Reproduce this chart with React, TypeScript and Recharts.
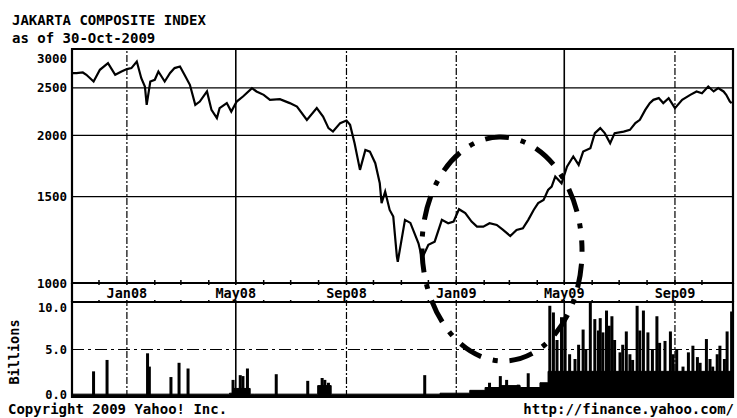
import React from 'react';
import {
  LineChart,
  Line,
  XAxis,
  YAxis,
  ReferenceLine,
  ReferenceArea,
  ComposedChart,
  Bar,
  Area,
} from 'recharts';

// x values are days since 1 Nov 2007
const monthStartDays = [0, 30, 61, 92, 121, 152, 182, 213, 243, 274, 305, 335, 366, 396, 427, 458, 486, 517, 547, 578, 608, 639, 670, 700];
const monthLabels = ['Nov07', 'Dec07', 'Jan08', 'Feb08', 'Mar08', 'Apr08', 'May08', 'Jun08', 'Jul08', 'Aug08', 'Sep08', 'Oct08', 'Nov08', 'Dec08', 'Jan09', 'Feb09', 'Mar09', 'Apr09', 'May09', 'Jun09', 'Jul09', 'Aug09', 'Sep09', 'Oct09'];
const labeledMonths = ['Jan08', 'May08', 'Sep08', 'Jan09', 'May09', 'Sep09'];

const priceDays = [
  0, 5, 12, 16, 24, 31, 40, 48, 55, 61,
  66, 72, 77, 81, 83, 87, 92, 96, 103, 109,
  114, 120, 125, 131, 137, 142, 150, 155, 161, 164,
  172, 177, 183, 190, 200, 205, 213, 220, 231, 242,
  250, 261, 272, 279, 285, 290, 298, 305, 309, 314,
  320, 326, 331, 337, 342, 344, 348, 353, 357, 361,
  362, 370, 376, 385, 389, 396, 403, 411, 418, 424,
  430, 437, 444, 450, 457, 464, 472, 479, 487, 494,
  501, 507, 513, 518, 524, 529, 533, 537, 544, 550,
  557, 563, 568, 576, 581, 587, 592, 598, 603, 613,
  620, 626, 631, 637, 642, 646, 652, 657, 663, 670,
  678, 687, 694, 700, 707, 713, 718, 724, 727, 731, 733,
];
const priceClose = [
  2680, 2680, 2687, 2658, 2575, 2721, 2808, 2658, 2699, 2730,
  2743, 2829, 2616, 2516, 2308, 2575, 2596, 2699, 2575, 2680,
  2743, 2764, 2658, 2536, 2308, 2344, 2458, 2254, 2168, 2273,
  2327, 2236, 2344, 2400, 2497, 2458, 2419, 2363, 2371, 2327,
  2290, 2151, 2273, 2185, 2069, 2036, 2118, 2144, 2101, 1928,
  1701, 1868, 1853, 1755, 1597, 1455, 1536, 1409, 1366, 1132,
  1105, 1345, 1326, 1205, 1123, 1196, 1214, 1345, 1324, 1334,
  1414, 1388, 1334, 1303, 1303, 1324, 1313, 1283, 1247, 1283,
  1293, 1345, 1409, 1455, 1477, 1548, 1572, 1648, 1597, 1727,
  1811, 1741, 1853, 1883, 2021, 2069, 2021, 1928, 2021, 2036,
  2052, 2118, 2151, 2254, 2327, 2363, 2382, 2327, 2382, 2273,
  2363, 2419, 2458, 2438, 2516, 2458, 2497, 2458, 2419, 2344, 2327,
];
const priceTicks = [1000, 1500, 2000, 2500, 3000];

// volume in billions
const volBaseDays = [0, 175, 179, 198, 203, 273, 288, 409, 442, 459, 475, 498, 520, 529, 734];
const volBaseVals = [0.3, 0.4, 0.9, 0.3, 0.3, 1.2, 0.3, 0.4, 0.7, 1.0, 1.2, 1.0, 1.5, 2.7, 2.7];
const volSpikeDays = [
  24, 39, 84, 86, 110, 119, 129, 179, 187, 190, 195, 227, 262, 278, 281, 285,
  392, 464, 476, 483, 496, 507,
  531, 535, 539, 544, 548, 553, 559, 563, 568, 571, 576, 581, 585, 587, 590, 594, 597, 600, 603, 609,
  612, 616, 620, 623, 628, 631, 635, 640, 645, 650, 653, 659, 665, 668, 672, 679, 685, 690, 695, 698,
  705, 709, 712, 717, 720, 725, 728, 733,
];
const volSpikeVals = [
  2.7, 3.9, 4.6, 3.2, 2.1, 3.6, 3.0, 1.8, 2.3, 2.2, 3.0, 2.4, 1.7, 2.0, 1.8, 1.5,
  2.3, 1.5, 2.2, 1.8, 1.3, 2.5,
  9.6, 8.9, 6.0, 8.4, 8.3, 4.5, 4.0, 5.5, 7.1, 5.0, 10, 8.2, 7.0, 8.3, 6.8, 9.1, 7.5, 8.5, 6.0, 4.7,
  5.5, 6.9, 4.5, 3.9, 9.6, 7.0, 9.1, 6.8, 5.0, 8.5, 5.7, 5.9, 6.9, 4.5, 5.0, 3.2, 4.7, 5.4, 4.2, 3.6,
  6.1, 4.0, 3.2, 4.5, 5.4, 4.0, 6.9, 9.0,
];
const volTicks = [0, 5, 10];

const gridDays = [61, 182, 305, 427, 547, 670];
const X_MAX = 734.5;

const priceData = priceDays.map((d, i) => ({ day: d, close: priceClose[i] }));

const volMap = new Map<number, any>();
volBaseDays.forEach((d, i) => {
  volMap.set(d, { ...(volMap.get(d) || { day: d }), base: volBaseVals[i] });
});
volSpikeDays.forEach((d, i) => {
  volMap.set(d, { ...(volMap.get(d) || { day: d }), spike: volSpikeVals[i] });
});
const volData = Array.from(volMap.values()).sort((a, b) => a.day - b.day);

const FONT = '"DejaVu Sans Mono", monospace';

const PriceTick = (props: any) => {
  const { x, y, payload } = props;
  const dy = payload.value === 3000 ? 9 : 0;
  return (
    <text x={x} y={y + dy} textAnchor="end" dominantBaseline="central" fontFamily={FONT} fontWeight="bold" fontSize={12.5} fill="#000">
      {payload.value}
    </text>
  );
};

const VolTick = (props: any) => {
  const { x, y, payload } = props;
  const dy = payload.value === 10 ? 6 : payload.value === 0 ? -2 : 0;
  return (
    <text x={x} y={y + dy} textAnchor="end" dominantBaseline="central" fontFamily={FONT} fontWeight="bold" fontSize={12} fill="#000">
      {payload.value.toFixed(1)}
    </text>
  );
};

const StripTick = (props: any) => {
  const { x, y, payload } = props;
  const i = monthStartDays.indexOf(payload.value);
  const label = monthLabels[i];
  const show = labeledMonths.includes(label);
  return (
    <g>
      <line x1={x} x2={x} y1={y - 3} y2={y + 2} stroke="#000" strokeWidth={1.5} />
      <line x1={x} x2={x} y1={y + 17} y2={y + 22} stroke="#000" strokeWidth={1.5} />
      {show && (
        <text x={x} y={y + 10} textAnchor="middle" dominantBaseline="central" fontFamily={FONT} fontWeight="bold" fontSize={13.5} fill="#000">
          {label}
        </text>
      )}
    </g>
  );
};

// fixed-width volume spike drawn at the position computed by the Bar's scales
const SpikeShape = (props: any) => {
  const { x, y, width, height } = props;
  if (height == null || !isFinite(height) || height <= 0) return <g />;
  const cx = x + width / 2;
  return <rect x={cx - 1.5} y={y} width={3} height={height} fill="#000" />;
};

const vLine = (d: number) => {
  const lbl = monthLabels[monthStartDays.indexOf(d)];
  const solid = lbl.startsWith('May');
  return (
    <ReferenceLine
      key={d}
      x={d}
      stroke="#000"
      strokeWidth={solid ? 1.6 : 1.2}
      strokeDasharray={solid ? undefined : '7 2 2 2'}
    />
  );
};

export default function App() {
  return (
    <div style={{ position: 'absolute', left: 0, top: 0, width: 737, height: 418, background: '#fff', overflow: 'hidden' }}>
      <div style={{ position: 'absolute', left: 0, top: 0 }}>
        <LineChart width={737} height={302} data={priceData} margin={{ top: 49, right: 4, bottom: 0, left: 0 }}>
          <XAxis
            type="number"
            dataKey="day"
            domain={[0, X_MAX]}
            allowDataOverflow
            ticks={monthStartDays}
            interval={0}
            height={19}
            tickSize={0}
            tickMargin={0}
            axisLine={false}
            tickLine={false}
            tick={<StripTick />}
          />
          <XAxis
            xAxisId="top"
            orientation="top"
            type="number"
            domain={[0, X_MAX]}
            allowDataOverflow
            ticks={monthStartDays}
            interval={0}
            height={1}
            mirror
            tickSize={4}
            tick={false}
            axisLine={false}
            tickLine={{ stroke: '#000', strokeWidth: 1.5 }}
          />
          <YAxis
            type="number"
            scale="log"
            domain={[1000, 3000]}
            allowDataOverflow
            ticks={priceTicks}
            interval={0}
            width={72}
            axisLine={false}
            tickLine={false}
            tickSize={3}
            tickMargin={2}
            tick={<PriceTick />}
          />
          {[1500, 2000, 2500].map((v) => (
            <ReferenceLine key={v} y={v} stroke="#000" strokeWidth={1.3} />
          ))}
          {gridDays.map(vLine)}
          <Line dataKey="close" type="linear" stroke="#000" strokeWidth={2.2} dot={false} activeDot={false} isAnimationActive={false} />
          <ReferenceArea x1={0} x2={X_MAX} y1={1000} y2={3000} fill="none" stroke="#000" strokeWidth={2.2} ifOverflow="visible" />
        </LineChart>
      </div>
      <div style={{ position: 'absolute', left: 0, top: 290 }}>
        <ComposedChart width={737} height={128} data={volData} margin={{ top: 12, right: 4, bottom: 21, left: 0 }}>
          <XAxis type="number" dataKey="day" domain={[0, X_MAX]} allowDataOverflow hide />
          <YAxis
            type="number"
            domain={[0, 10]}
            allowDataOverflow
            ticks={volTicks}
            interval={0}
            width={72}
            axisLine={false}
            tickLine={false}
            tickSize={3}
            tickMargin={2}
            tick={<VolTick />}
          />
          <ReferenceLine y={5} stroke="#000" strokeWidth={1.2} strokeDasharray="12 4 3 4" />
          {gridDays.map(vLine)}
          <Area dataKey="base" type="stepAfter" stroke="#000" strokeWidth={1} fill="#000" fillOpacity={1} connectNulls dot={false} activeDot={false} isAnimationActive={false} />
          <Bar dataKey="spike" fill="#000" barSize={3} shape={<SpikeShape />} isAnimationActive={false} />
          <ReferenceArea x1={0} x2={X_MAX} y1={0} y2={10} fill="none" stroke="#000" strokeWidth={2.2} ifOverflow="visible" />
        </ComposedChart>
      </div>
      <svg width={737} height={418} style={{ position: 'absolute', left: 0, top: 0, pointerEvents: 'none' }}>
        <text x={12} y={24.5} fontFamily={FONT} fontWeight="bold" fontSize={14} fill="#000">JAKARTA COMPOSITE INDEX</text>
        <text x={12} y={43} fontFamily={FONT} fontWeight="bold" fontSize={14} fill="#000">as of 30-Oct-2009</text>
        <line x1={72} x2={72} y1={283} y2={302} stroke="#000" strokeWidth={2.2} />
        <line x1={733} x2={733} y1={283} y2={302} stroke="#000" strokeWidth={2.2} />
        <text
          x={14}
          y={352}
          transform="rotate(-90 14 352)"
          textAnchor="middle"
          dominantBaseline="central"
          fontFamily={FONT}
          fontWeight="bold"
          fontSize={13.5}
          fill="#000"
        >
          Billions
        </text>
        <text x={8} y={414} fontFamily={FONT} fontWeight="bold" fontSize={14} fill="#000">Copyright 2009 Yahoo! Inc.</text>
        <text x={734} y={414} textAnchor="end" fontFamily={FONT} fontWeight="bold" fontSize={14} fill="#000">http://finance.yahoo.com/</text>
        <ellipse
          cx={502}
          cy={249}
          rx={80}
          ry={112}
          transform="rotate(-1.5 502 249)"
          fill="none"
          stroke="#000"
          strokeWidth={5}
          strokeDasharray="5 12 24 12"
        />
      </svg>
    </div>
  );
}
